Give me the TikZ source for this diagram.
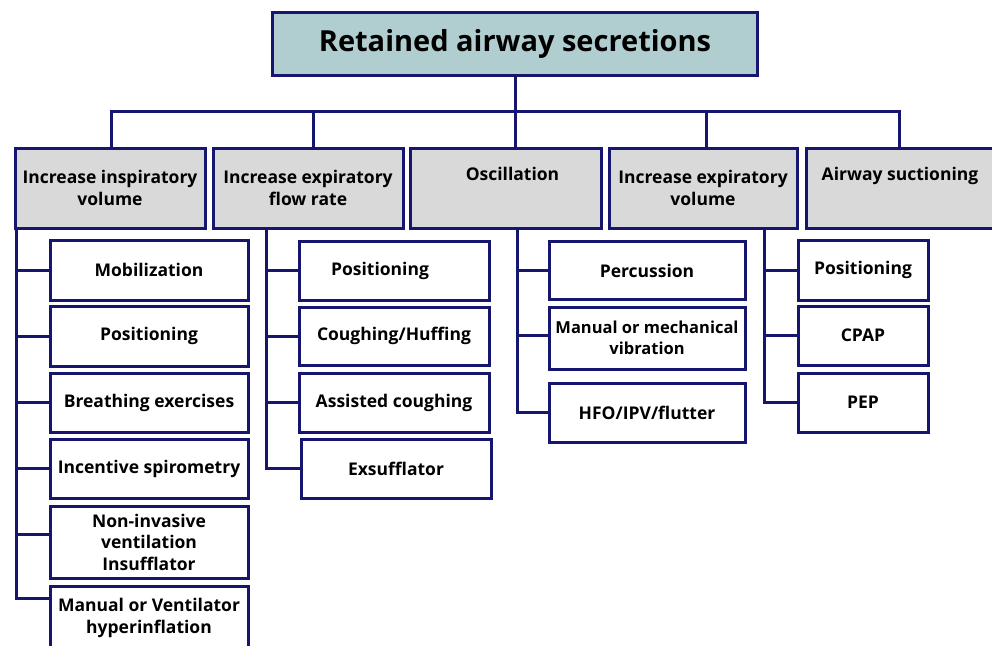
\documentclass[tikz,border=0pt]{standalone}
\usepackage{fontspec}
\setmainfont{Open Sans}
\definecolor{navy}{RGB}{22,22,110}
\definecolor{titlefill}{RGB}{176,205,208}
\definecolor{catfill}{RGB}{217,217,217}
\begin{document}
\begin{tikzpicture}[x=1pt,y=-1pt,
  box/.style={draw=navy, line width=3pt, rectangle, inner sep=0pt, align=center,
    font=\bfseries\fontsize{17.5}{21.5}\selectfont},
  titlebox/.style={box, fill=titlefill, font=\bfseries\fontsize{29}{32}\selectfont},
  catbox/.style={box, fill=catfill, minimum height=80pt},
  leaf/.style={box, fill=white},
  conn/.style={draw=navy, line width=3pt}]
\useasboundingbox (0,0) rectangle (992,645);
\clip (0,0) rectangle (992,645);
% title
\node[titlebox, minimum width=485pt, minimum height=63pt] (title) at (515,43.5) {Retained airway secretions};
% categories
\node[catbox, minimum width=190pt] (cat1) at (110,188) {Increase inspiratory\\volume};
\node[catbox, minimum width=190pt] (cat2) at (308,188) {Increase expiratory\\flow rate};
\node[catbox, minimum width=191pt] (cat3) at (505.5,188) {\hspace*{14pt}Oscillation\\\strut};
\node[catbox, minimum width=188pt] (cat4) at (703,188) {Increase expiratory\\volume};
\node[catbox, minimum width=194pt] (cat5) at (903,188) {\hspace*{-6pt}Airway suctioning\\\strut};
% top connectors
\coordinate (bar) at (515,111);
\coordinate (d1) at (111,111);
\coordinate (d2) at (313,111);
\coordinate (d3) at (515,111);
\coordinate (d4) at (706,111);
\coordinate (d5) at (899,111);
\draw[conn] (title.south) -- (bar);
\draw[conn, line cap=rect] (d1) -- (d5);
\draw[conn] (d1) -- (d1 |- cat1.north);
\draw[conn] (d2) -- (d2 |- cat2.north);
\draw[conn] (d3) -- (d3 |- cat3.north);
\draw[conn] (d4) -- (d4 |- cat4.north);
\draw[conn] (d5) -- (d5 |- cat5.north);
% column 1
\node[leaf, minimum width=198pt, minimum height=60pt] (c1a) at (149,270) {Mobilization};
\node[leaf, minimum width=198pt, minimum height=60pt] (c1b) at (149,336) {Positioning};
\node[leaf, minimum width=198pt, minimum height=59pt] (c1c) at (149,402.5) {Breathing exercises};
\node[leaf, minimum width=198pt, minimum height=59pt] (c1d) at (149,468.5) {Incentive spirometry};
\node[leaf, minimum width=198pt, minimum height=72pt] (c1e) at (149,542) {Non-invasive\\ventilation\\Insufflator};
\node[leaf, minimum width=198pt, minimum height=64pt] (c1f) at (149,618) {Manual or Ventilator\\hyperinflation};
\coordinate (s1) at (16,228);
\coordinate (b1e) at ([yshift=8pt]c1e.west);
\coordinate (b1f) at ([yshift=20pt]c1f.west);
\draw[conn] (s1) |- (b1f);
\draw[conn] (s1 |- c1a.west) -- (c1a.west);
\draw[conn] (s1 |- c1b.west) -- (c1b.west);
\draw[conn] (s1 |- c1c.west) -- (c1c.west);
\draw[conn] (s1 |- c1d.west) -- (c1d.west);
\draw[conn] (s1 |- b1e) -- (b1e);
% column 2
\node[leaf, minimum width=190pt, minimum height=59pt] (c2a) at (394,270.5) {\hspace*{-28pt}Positioning};
\node[leaf, minimum width=190pt, minimum height=58pt] (c2b) at (394,336) {Coughing/Huffing};
\node[leaf, minimum width=190pt, minimum height=59pt] (c2c) at (394,402.5) {Assisted coughing};
\node[leaf, minimum width=190pt, minimum height=59pt] (c2d) at (396,468.5) {Exsufflator};
\coordinate (s2) at (266,228);
\draw[conn] (s2) |- (c2d.west);
\draw[conn] (s2 |- c2a.west) -- (c2a.west);
\draw[conn] (s2 |- c2b.west) -- (c2b.west);
\draw[conn] (s2 |- c2c.west) -- (c2c.west);
% column 3
\node[leaf, minimum width=196pt, minimum height=58pt] (c3a) at (647,270.5) {Percussion};
\node[leaf, minimum width=196pt, minimum height=62pt, font=\bfseries\fontsize{16.5}{21.5}\selectfont] (c3b) at (647,338) {Manual or mechanical\\vibration};
\node[leaf, minimum width=196pt, minimum height=59pt] (c3c) at (647,412.5) {HFO/IPV/flutter};
\coordinate (s3) at (517,228);
\coordinate (b3b) at ([yshift=3pt]c3b.west);
\draw[conn] (s3) |- (c3c.west);
\draw[conn] (s3 |- c3a.west) -- (c3a.west);
\draw[conn] (s3 |- b3b) -- (b3b);
% column 4
\node[leaf, minimum width=130pt, minimum height=60pt] (c4a) at (863,270) {Positioning};
\node[leaf, minimum width=130pt, minimum height=59pt] (c4b) at (863,335.5) {CPAP};
\node[leaf, minimum width=130pt, minimum height=59pt] (c4c) at (863,402.5) {PEP};
\coordinate (s4) at (764,228);
\draw[conn] (s4) |- (c4c.west);
\draw[conn] (s4 |- c4a.west) -- (c4a.west);
\draw[conn] (s4 |- c4b.west) -- (c4b.west);
\end{tikzpicture}
\end{document}
